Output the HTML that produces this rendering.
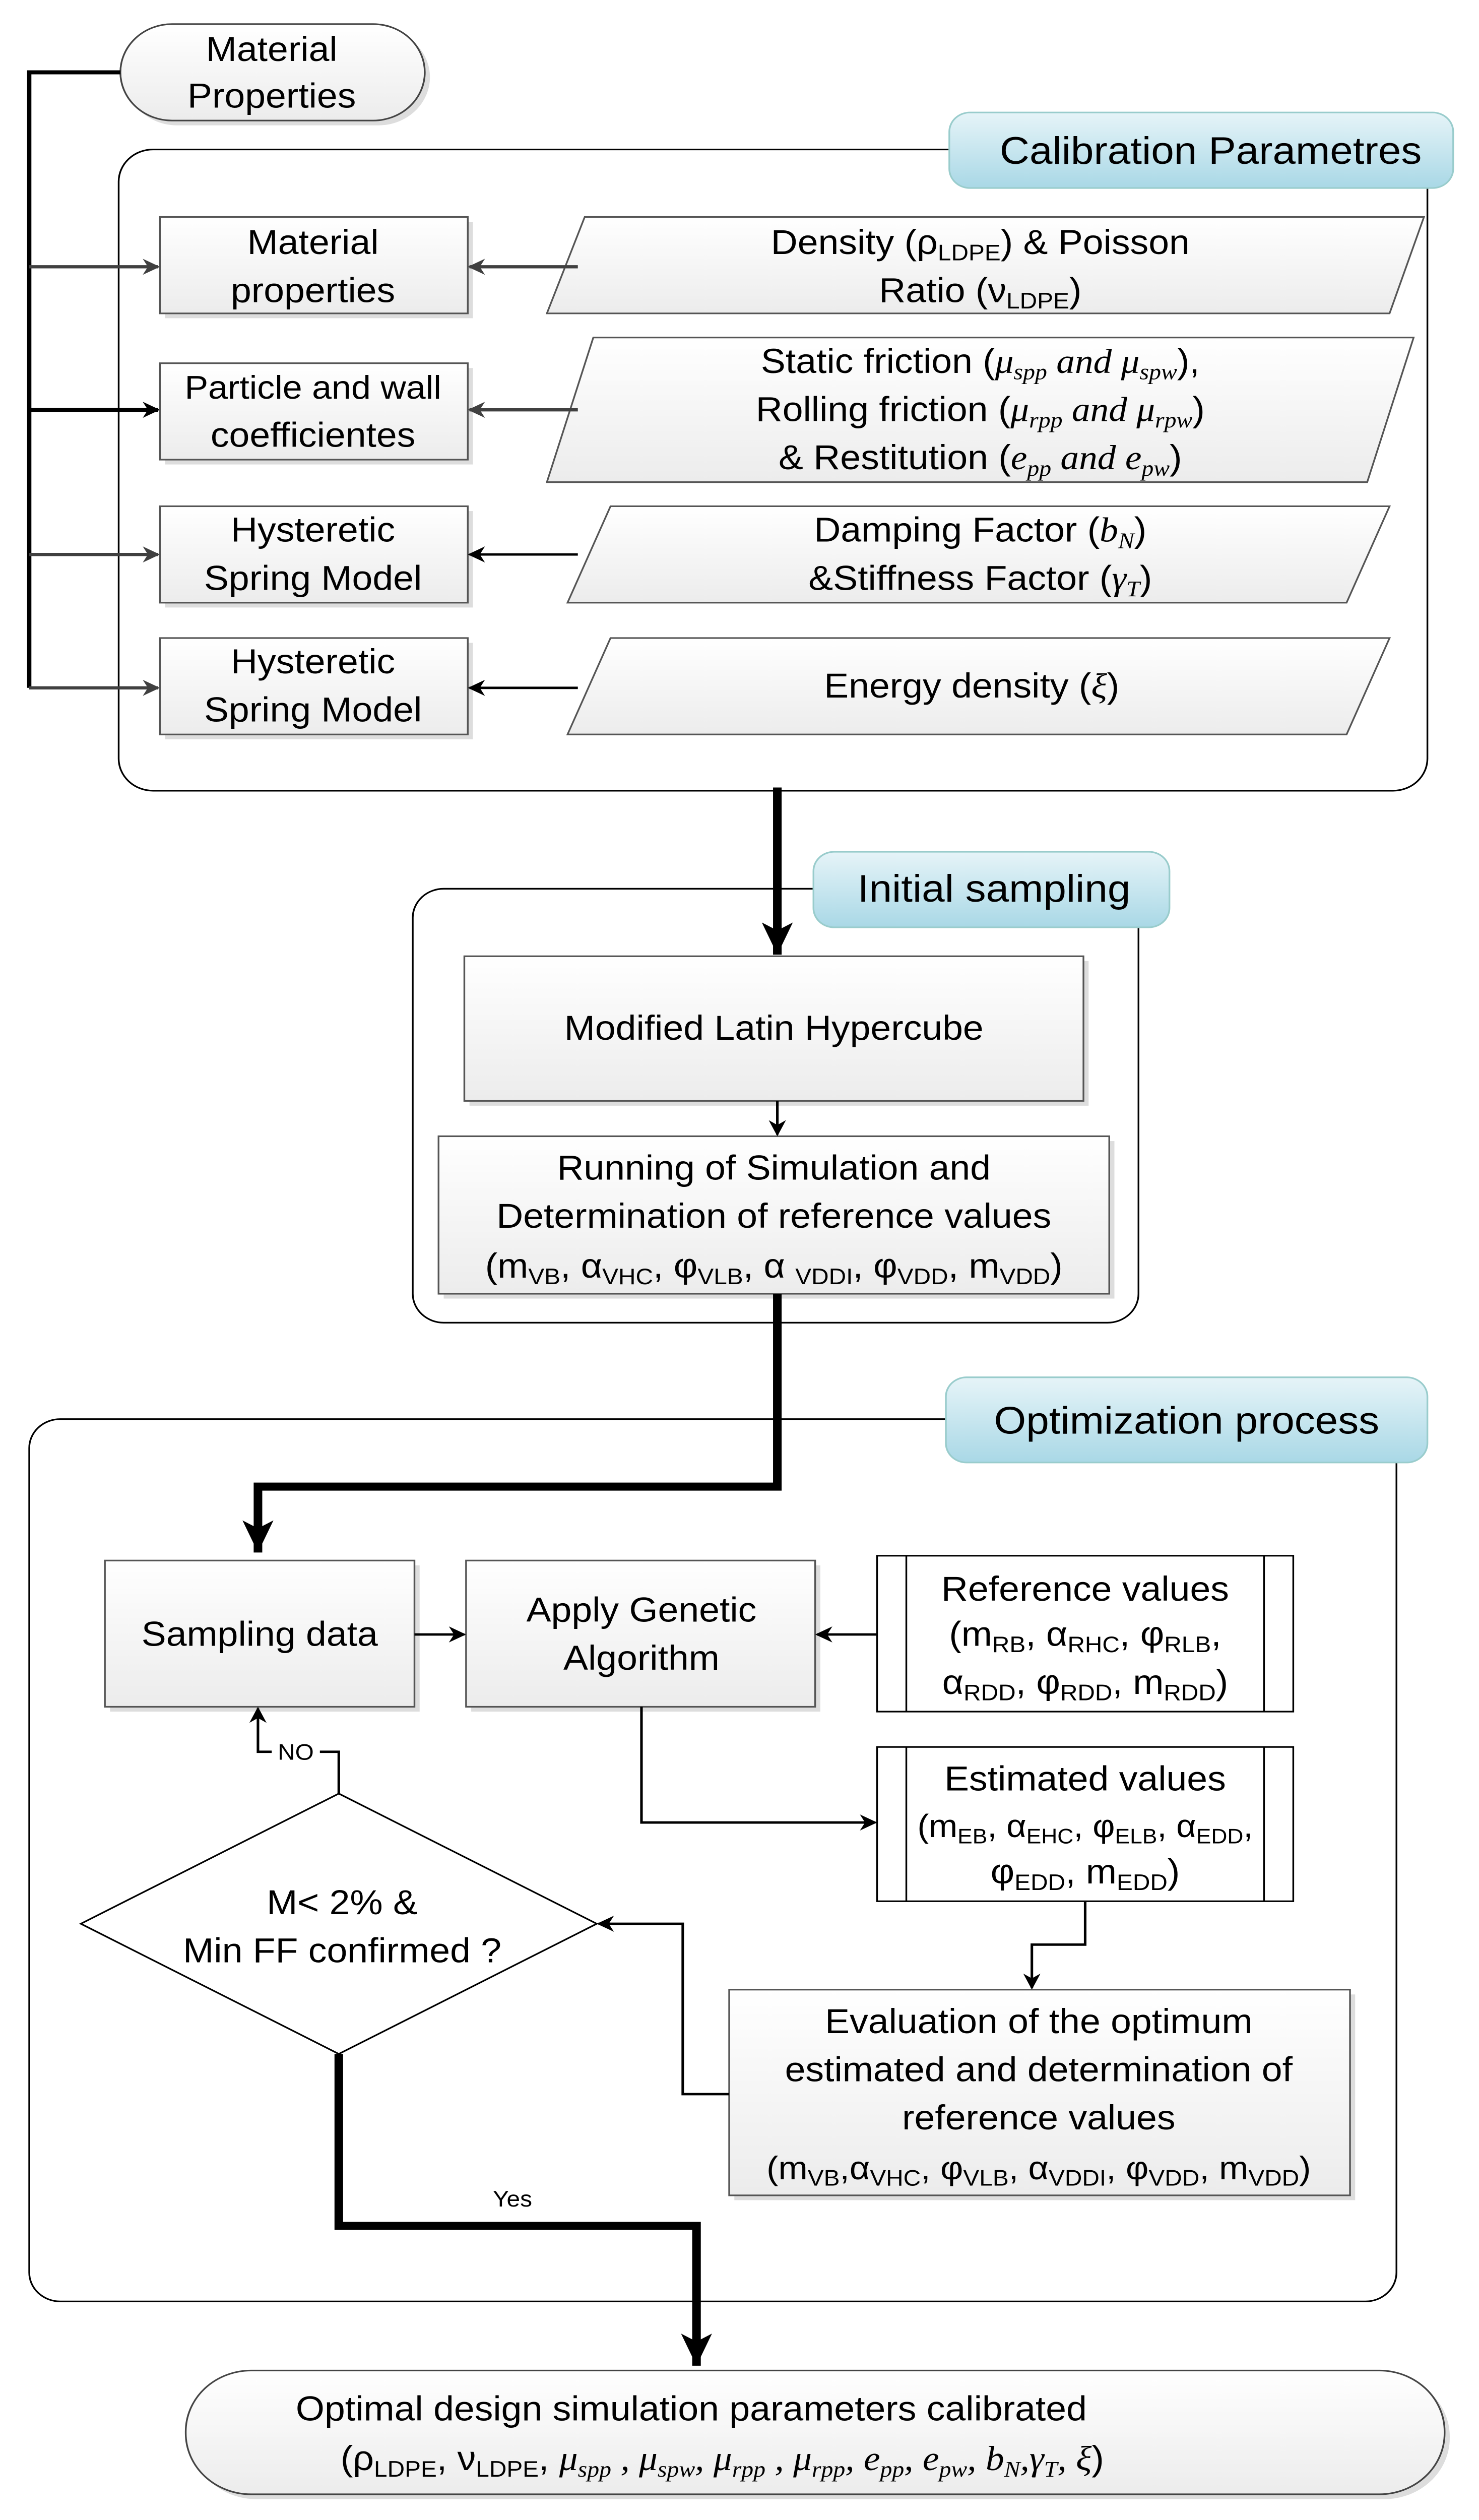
<!DOCTYPE html>
<html><head><meta charset="utf-8"><style>
html,body{margin:0;padding:0;background:#fff;width:100%;height:100%;overflow:hidden;}
svg{display:block;position:absolute;left:0;top:0;width:100vw;height:100vh;}
text{font-family:"Liberation Sans",sans-serif;fill:#000;}
</style></head><body>
<svg viewBox="0 0 860 1568" preserveAspectRatio="none" xmlns="http://www.w3.org/2000/svg">
<defs>
<linearGradient id="g" x1="0" y1="0" x2="0" y2="1"><stop offset="0" stop-color="#ffffff"/><stop offset="1" stop-color="#ececec"/></linearGradient>
<linearGradient id="b" x1="0" y1="0" x2="0" y2="1"><stop offset="0" stop-color="#e6f4f8"/><stop offset="1" stop-color="#a9d8e6"/></linearGradient>
<marker id="a" markerWidth="10" markerHeight="10" refX="9" refY="5" orient="auto" markerUnits="userSpaceOnUse"><path d="M0,0 L10,5 L0,10 L3,5 Z" fill="#000"/></marker>
<marker id="ag" markerWidth="10" markerHeight="10" refX="9" refY="5" orient="auto" markerUnits="userSpaceOnUse"><path d="M0,0 L10,5 L0,10 L3,5 Z" fill="#404040"/></marker>
<marker id="at" markerWidth="22" markerHeight="22" refX="20" refY="11" orient="auto" markerUnits="userSpaceOnUse"><path d="M0,2 L20,11 L0,20 L5,11 Z" fill="#000"/></marker>
</defs>
<g font-size="21.5" text-anchor="middle">
<rect x="73" y="18" width="177" height="60" rx="30" fill="#ddd"/>
<rect x="70" y="15" width="177" height="60" rx="30" fill="url(#g)" stroke="#444" stroke-width="1"/>
<text x="158" y="38">Material</text><text x="158" y="67">Properties</text>

<rect x="69" y="93" width="761" height="399" rx="20" fill="#fff" stroke="#000" stroke-width="1"/>
<rect x="552" y="70" width="293" height="47" rx="12" fill="url(#b)" stroke="#9cc" stroke-width="1"/>
<text x="704" y="102" font-size="24">Calibration Parametres</text>

<path d="M70,45 H17 V428" fill="none" stroke="#000" stroke-width="2.5"/>
<line x1="17" y1="166" x2="92" y2="166" stroke="#404040" stroke-width="2" marker-end="url(#ag)"/>
<line x1="17" y1="255" x2="92" y2="255" stroke="#000" stroke-width="2.5" marker-end="url(#a)"/>
<line x1="17" y1="345" x2="92" y2="345" stroke="#404040" stroke-width="2" marker-end="url(#ag)"/>
<line x1="17" y1="428" x2="92" y2="428" stroke="#404040" stroke-width="2" marker-end="url(#ag)"/>

<g stroke="#555" stroke-width="1">
<rect x="96" y="138" width="179" height="60" fill="#ddd" stroke="none"/>
<rect x="93" y="135" width="179" height="60" fill="url(#g)"/>
<rect x="96" y="229" width="179" height="60" fill="#ddd" stroke="none"/>
<rect x="93" y="226" width="179" height="60" fill="url(#g)"/>
<rect x="96" y="318" width="179" height="60" fill="#ddd" stroke="none"/>
<rect x="93" y="315" width="179" height="60" fill="url(#g)"/>
<rect x="96" y="400" width="179" height="60" fill="#ddd" stroke="none"/>
<rect x="93" y="397" width="179" height="60" fill="url(#g)"/>
</g>
<text x="182" y="158">Material</text><text x="182" y="188">properties</text>
<text x="182" y="248" font-size="20.5">Particle and wall</text><text x="182" y="278">coefficientes</text>
<text x="182" y="337">Hysteretic</text><text x="182" y="367">Spring Model</text>
<text x="182" y="419">Hysteretic</text><text x="182" y="449">Spring Model</text>

<g stroke="#555" stroke-width="1" fill="url(#g)">
<polygon points="340,135 828,135 808,195 318,195"/>
<polygon points="345,210 822,210 795,300 318,300"/>
<polygon points="355,315 808,315 783,375 330,375"/>
<polygon points="355,397 808,397 783,457 330,457"/>
</g>
<text x="570" y="158">Density (ρ<tspan font-size="14" dy="4">LDPE</tspan><tspan dy="-4">) &amp; Poisson</tspan></text>
<text x="570" y="188">Ratio (ν<tspan font-size="14" dy="4">LDPE</tspan><tspan dy="-4">)</tspan></text>
<text x="570" y="232">Static friction (<tspan font-family="Liberation Serif" font-style="italic">μ<tspan font-size="14" dy="4">spp</tspan><tspan dy="-4"> and μ</tspan><tspan font-size="14" dy="4">spw</tspan></tspan><tspan dy="-4">),</tspan></text>
<text x="570" y="262">Rolling friction (<tspan font-family="Liberation Serif" font-style="italic">μ<tspan font-size="14" dy="4">rpp</tspan><tspan dy="-4"> and μ</tspan><tspan font-size="14" dy="4">rpw</tspan></tspan><tspan dy="-4">)</tspan></text>
<text x="570" y="292">&amp; Restitution (<tspan font-family="Liberation Serif" font-style="italic">e<tspan font-size="14" dy="4">pp</tspan><tspan dy="-4"> and e</tspan><tspan font-size="14" dy="4">pw</tspan></tspan><tspan dy="-4">)</tspan></text>
<text x="570" y="337">Damping Factor (<tspan font-family="Liberation Serif" font-style="italic">b<tspan font-size="14" dy="4">N</tspan></tspan><tspan dy="-4">)</tspan></text>
<text x="570" y="367">&amp;Stiffness Factor (<tspan font-family="Liberation Serif" font-style="italic">γ<tspan font-size="14" dy="4">T</tspan></tspan><tspan dy="-4">)</tspan></text>
<text x="565" y="434">Energy density (<tspan font-family="Liberation Serif" font-style="italic">ξ</tspan>)</text>

<line x1="336" y1="166" x2="273" y2="166" stroke="#404040" stroke-width="2" marker-end="url(#ag)"/>
<line x1="336" y1="255" x2="273" y2="255" stroke="#404040" stroke-width="2" marker-end="url(#ag)"/>
<line x1="336" y1="345" x2="273" y2="345" stroke="#000" stroke-width="1.5" marker-end="url(#a)"/>
<line x1="336" y1="428" x2="273" y2="428" stroke="#000" stroke-width="1.5" marker-end="url(#a)"/>

<rect x="240" y="553" width="422" height="270" rx="18" fill="none" stroke="#000" stroke-width="1"/>
<rect x="473" y="530" width="207" height="47" rx="12" fill="url(#b)" stroke="#9cc" stroke-width="1"/>
<text x="578" y="561" font-size="24">Initial sampling</text>
<g stroke="#555" stroke-width="1">
<rect x="273" y="598" width="360" height="90" fill="#ddd" stroke="none"/>
<rect x="270" y="595" width="360" height="90" fill="url(#g)"/>
<rect x="258" y="710" width="390" height="98" fill="#ddd" stroke="none"/>
<rect x="255" y="707" width="390" height="98" fill="url(#g)"/>
</g>
<line x1="452" y1="490" x2="452" y2="594" stroke="#000" stroke-width="5" marker-end="url(#at)"/>
<text x="450" y="647">Modified Latin Hypercube</text>
<line x1="452" y1="685" x2="452" y2="706" stroke="#000" stroke-width="1.5" marker-end="url(#a)"/>
<text x="450" y="734">Running of Simulation and</text>
<text x="450" y="764">Determination of reference values</text>
<text x="450" y="795">(m<tspan font-size="14" dy="4">VB</tspan><tspan dy="-4">, α</tspan><tspan font-size="14" dy="4">VHC</tspan><tspan dy="-4">, φ</tspan><tspan font-size="14" dy="4">VLB</tspan><tspan dy="-4">, α </tspan><tspan font-size="14" dy="4">VDDI</tspan><tspan dy="-4">, φ</tspan><tspan font-size="14" dy="4">VDD</tspan><tspan dy="-4">, m</tspan><tspan font-size="14" dy="4">VDD</tspan><tspan dy="-4">)</tspan></text>

<rect x="17" y="883" width="795" height="549" rx="18" fill="none" stroke="#000" stroke-width="1"/>
<rect x="550" y="857" width="280" height="53" rx="12" fill="url(#b)" stroke="#9cc" stroke-width="1"/>
<text x="690" y="892" font-size="24">Optimization process</text>
<path d="M452,805 V925 H150 V966" fill="none" stroke="#000" stroke-width="5" marker-end="url(#at)"/>

<g stroke="#555" stroke-width="1">
<rect x="64" y="974" width="180" height="91" fill="#ddd" stroke="none"/>
<rect x="61" y="971" width="180" height="91" fill="url(#g)"/>
<rect x="274" y="974" width="203" height="91" fill="#ddd" stroke="none"/>
<rect x="271" y="971" width="203" height="91" fill="url(#g)"/>
<rect x="427" y="1241" width="361" height="128" fill="#ddd" stroke="none"/>
<rect x="424" y="1238" width="361" height="128" fill="url(#g)"/>
</g>
<g stroke="#000" stroke-width="1" fill="#fff">
<rect x="510" y="968" width="242" height="97"/>
<line x1="527" y1="968" x2="527" y2="1065"/><line x1="735" y1="968" x2="735" y2="1065"/>
<rect x="510" y="1087" width="242" height="96"/>
<line x1="527" y1="1087" x2="527" y2="1183"/><line x1="735" y1="1087" x2="735" y2="1183"/>
</g>
<text x="151" y="1024">Sampling data</text>
<text x="373" y="1009">Apply Genetic</text><text x="373" y="1039">Algorithm</text>
<text x="631" y="996">Reference values</text>
<text x="631" y="1024">(m<tspan font-size="14" dy="4">RB</tspan><tspan dy="-4">, α</tspan><tspan font-size="14" dy="4">RHC</tspan><tspan dy="-4">, φ</tspan><tspan font-size="14" dy="4">RLB</tspan><tspan dy="-4">,</tspan></text>
<text x="631" y="1054">α<tspan font-size="14" dy="4">RDD</tspan><tspan dy="-4">, φ</tspan><tspan font-size="14" dy="4">RDD</tspan><tspan dy="-4">, m</tspan><tspan font-size="14" dy="4">RDD</tspan><tspan dy="-4">)</tspan></text>
<text x="631" y="1114">Estimated values</text>
<text x="631" y="1143" font-size="20">(m<tspan font-size="13" dy="4">EB</tspan><tspan dy="-4">, α</tspan><tspan font-size="13" dy="4">EHC</tspan><tspan dy="-4">, φ</tspan><tspan font-size="13" dy="4">ELB</tspan><tspan dy="-4">, α</tspan><tspan font-size="13" dy="4">EDD</tspan><tspan dy="-4">,</tspan></text>
<text x="631" y="1172">φ<tspan font-size="14" dy="4">EDD</tspan><tspan dy="-4">, m</tspan><tspan font-size="14" dy="4">EDD</tspan><tspan dy="-4">)</tspan></text>
<text x="604" y="1265">Evaluation of the optimum</text>
<text x="604" y="1295">estimated and determination of</text>
<text x="604" y="1325">reference values</text>
<text x="604" y="1356" font-size="20.5">(m<tspan font-size="14" dy="4">VB</tspan><tspan dy="-4">,α</tspan><tspan font-size="14" dy="4">VHC</tspan><tspan dy="-4">, φ</tspan><tspan font-size="14" dy="4">VLB</tspan><tspan dy="-4">, α</tspan><tspan font-size="14" dy="4">VDDI</tspan><tspan dy="-4">, φ</tspan><tspan font-size="14" dy="4">VDD</tspan><tspan dy="-4">, m</tspan><tspan font-size="14" dy="4">VDD</tspan><tspan dy="-4">)</tspan></text>

<g fill="none" stroke="#000" stroke-width="1.5">
<line x1="241" y1="1017" x2="270" y2="1017" marker-end="url(#a)"/>
<line x1="510" y1="1017" x2="475" y2="1017" marker-end="url(#a)"/>
<path d="M373,1062 V1134 H509" marker-end="url(#a)"/>
<path d="M631,1183 V1210 H600 V1237" marker-end="url(#a)"/>
<path d="M424,1303 H397 V1197 H348" marker-end="url(#a)"/>
<path d="M197,1116 V1090 H150 V1063" marker-end="url(#a)"/>
</g>
<rect x="158" y="1081" width="28" height="16" fill="#fff"/>
<text x="172" y="1095" font-size="14">NO</text>

<polygon points="197,1116 347,1197 197,1278 47,1197" fill="#fff" stroke="#000" stroke-width="1"/>
<text x="199" y="1191">M&lt; 2%  &amp;</text>
<text x="199" y="1221">Min FF confirmed ?</text>

<path d="M197,1278 V1385 H405 V1472" fill="none" stroke="#000" stroke-width="5" marker-end="url(#at)"/>
<text x="298" y="1373" font-size="14">Yes</text>

<rect x="111" y="1478" width="732" height="77" rx="38" fill="#ddd"/>
<rect x="108" y="1475" width="732" height="77" rx="38" fill="url(#g)" stroke="#444" stroke-width="1"/>
<text x="402" y="1506">Optimal design simulation parameters calibrated</text>
<text x="420" y="1537">(ρ<tspan font-size="14" dy="4">LDPE</tspan><tspan dy="-4">, ν</tspan><tspan font-size="14" dy="4">LDPE</tspan><tspan dy="-4">, </tspan><tspan font-family="Liberation Serif" font-style="italic">μ<tspan font-size="14" dy="4">spp</tspan><tspan dy="-4"> , μ</tspan><tspan font-size="14" dy="4">spw</tspan><tspan dy="-4">, μ</tspan><tspan font-size="14" dy="4">rpp</tspan><tspan dy="-4"> , μ</tspan><tspan font-size="14" dy="4">rpp</tspan><tspan dy="-4">, e</tspan><tspan font-size="14" dy="4">pp</tspan><tspan dy="-4">, e</tspan><tspan font-size="14" dy="4">pw</tspan><tspan dy="-4">,  b</tspan><tspan font-size="14" dy="4">N</tspan><tspan dy="-4">,γ</tspan><tspan font-size="14" dy="4">T</tspan><tspan dy="-4">, ξ</tspan></tspan><tspan>)</tspan></text>
</g>
</svg>
</body></html>
